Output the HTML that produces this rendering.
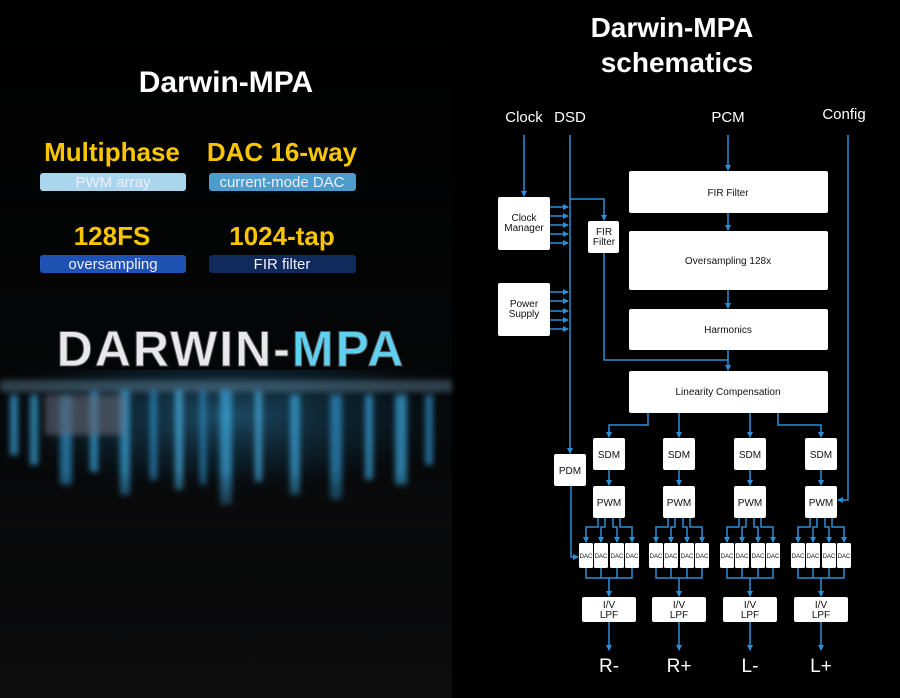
<!DOCTYPE html>
<html><head><meta charset="utf-8"><style>
html,body{margin:0;padding:0;background:#000;}
body{width:900px;height:698px;overflow:hidden;position:relative;font-family:"Liberation Sans",sans-serif;}
</style></head><body>
<svg width="900" height="698" viewBox="0 0 900 698" xmlns="http://www.w3.org/2000/svg" style="position:absolute;left:0;top:0">
<defs>
<marker id="a" markerWidth="6" markerHeight="6" refX="5" refY="3" orient="auto" markerUnits="userSpaceOnUse"><path d="M0,0 L6,3 L0,6 z" fill="#2a8fd6"/></marker>
<linearGradient id="lb" x1="0" y1="0" x2="0" y2="1"><stop offset="0" stop-color="#000"/><stop offset="0.55" stop-color="#050607"/><stop offset="1" stop-color="#0c0c0d"/></linearGradient>
<radialGradient id="glow" cx="0.5" cy="0.3" r="0.6"><stop offset="0" stop-color="#3aa0d8" stop-opacity="0.45"/><stop offset="0.6" stop-color="#1a5a80" stop-opacity="0.2"/><stop offset="1" stop-color="#000" stop-opacity="0"/></radialGradient>
<linearGradient id="fade" x1="0" y1="0" x2="0" y2="1"><stop offset="0" stop-color="#0b0b0c" stop-opacity="0"/><stop offset="1" stop-color="#0b0b0c" stop-opacity="1"/></linearGradient>
<filter id="bl" x="-20%" y="-20%" width="140%" height="140%"><feGaussianBlur stdDeviation="3"/></filter>
</defs>
<!-- left panel -->
<rect x="0" y="0" width="452" height="698" fill="url(#lb)"/>
<text x="226" y="92" fill="#fff" font-size="30" font-weight="bold" text-anchor="middle">Darwin-MPA</text>
<g font-weight="bold" font-size="26" fill="#f7c600" text-anchor="middle">
<text x="112" y="161">Multiphase</text>
<text x="282" y="161">DAC 16-way</text>
<text x="112" y="245">128FS</text>
<text x="282" y="245">1024-tap</text>
</g>
<rect x="40" y="173" width="146" height="18" rx="3" fill="#a9d6ec"/>
<rect x="209" y="173" width="147" height="18" rx="3" fill="#4c9ccc"/>
<rect x="40" y="255" width="146" height="18" rx="3" fill="#1f52b2"/>
<rect x="209" y="255" width="147" height="18" rx="3" fill="#102a5c"/>
<g font-size="15" fill="#eef" text-anchor="middle">
<text x="113" y="187">PWM array</text>
<text x="282" y="187">current-mode DAC</text>
<text x="113" y="269">oversampling</text>
<text x="282" y="269">FIR filter</text>
</g>
<rect x="0" y="370" width="452" height="150" fill="url(#glow)"/>
<g opacity="0.7" filter="url(#bl)">
<rect x="0" y="380" width="452" height="12" fill="#6a8fa8" opacity="0.6"/>
<rect x="10" y="395" width="8" height="60" fill="#3aa8e0"/>
<rect x="30" y="395" width="8" height="70" fill="#3aa8e0"/>
<rect x="60" y="395" width="12" height="90" fill="#2f90c8"/>
<rect x="90" y="392" width="8" height="80" fill="#3aa8e0"/>
<rect x="120" y="390" width="10" height="105" fill="#3aa8e0"/>
<rect x="150" y="390" width="7" height="90" fill="#2f90c8"/>
<rect x="175" y="390" width="8" height="100" fill="#4ab4e8"/>
<rect x="200" y="390" width="6" height="95" fill="#2f90c8"/>
<rect x="220" y="390" width="12" height="115" fill="#3aa8e0"/>
<rect x="255" y="392" width="7" height="90" fill="#4ab4e8"/>
<rect x="290" y="395" width="10" height="100" fill="#3aa8e0"/>
<rect x="330" y="395" width="12" height="105" fill="#2f90c8"/>
<rect x="365" y="395" width="8" height="85" fill="#3aa8e0"/>
<rect x="395" y="395" width="12" height="90" fill="#3aa8e0"/>
<rect x="425" y="395" width="8" height="70" fill="#2f90c8"/>
<rect x="45" y="395" width="80" height="40" fill="#889" opacity="0.6"/>
</g>
<rect x="0" y="470" width="452" height="60" fill="url(#fade)"/>
<text x="231" y="366" fill="#e8e8ea" font-size="50" font-weight="bold" text-anchor="middle" letter-spacing="2" stroke="#555" stroke-width="1">DARWIN-<tspan fill="#5fd0f0">MPA</tspan></text>

<!-- right panel -->
<g fill="#fff" font-weight="bold" font-size="28" text-anchor="middle">
<text x="672" y="37">Darwin-MPA</text>
<text x="677" y="72">schematics</text>
</g>
<g fill="#fff" font-size="15" text-anchor="middle">
<text x="524" y="122">Clock</text>
<text x="570" y="122">DSD</text>
<text x="728" y="122">PCM</text>
<text x="844" y="119">Config</text>
</g>
<g stroke="#2a8fd6" stroke-width="1.5" fill="none">
<line x1="524" y1="135" x2="524" y2="196" marker-end="url(#a)"/>
<polyline points="570,135 570,453" marker-end="url(#a)"/>
<polyline points="571,486 571,557 578,557" marker-end="url(#a)"/>
<polyline points="570,199 604,199 604,220" marker-end="url(#a)"/>
<polyline points="604,253 604,360 728,360 728,370" marker-end="url(#a)"/>
<line x1="728" y1="135" x2="728" y2="170" marker-end="url(#a)"/>
<line x1="728" y1="213" x2="728" y2="230" marker-end="url(#a)"/>
<line x1="728" y1="290" x2="728" y2="308" marker-end="url(#a)"/>
<line x1="728" y1="350" x2="728" y2="360"/>
<polyline points="848,135 848,500 838,500" marker-end="url(#a)"/>
<line x1="550" y1="207" x2="568" y2="207" marker-end="url(#a)"/>
<line x1="550" y1="216" x2="568" y2="216" marker-end="url(#a)"/>
<line x1="550" y1="225" x2="568" y2="225" marker-end="url(#a)"/>
<line x1="550" y1="234" x2="568" y2="234" marker-end="url(#a)"/>
<line x1="550" y1="243" x2="568" y2="243" marker-end="url(#a)"/>
<line x1="550" y1="292" x2="568" y2="292" marker-end="url(#a)"/>
<line x1="550" y1="301" x2="568" y2="301" marker-end="url(#a)"/>
<line x1="550" y1="311" x2="568" y2="311" marker-end="url(#a)"/>
<line x1="550" y1="320" x2="568" y2="320" marker-end="url(#a)"/>
<line x1="550" y1="329" x2="568" y2="329" marker-end="url(#a)"/>
<polyline points="648,413 648,425 609,425 609,437" marker-end="url(#a)"/>
<line x1="679" y1="413" x2="679" y2="437" marker-end="url(#a)"/>
<line x1="750" y1="413" x2="750" y2="437" marker-end="url(#a)"/>
<polyline points="778,413 778,425 821,425 821,437" marker-end="url(#a)"/>
</g>
<g fill="#fff">
<rect x="498" y="197" width="52" height="53" rx="2"/>
<rect x="498" y="283" width="52" height="53" rx="2"/>
<rect x="588" y="221" width="31" height="32" rx="2"/>
<rect x="629" y="171" width="199" height="42" rx="2"/>
<rect x="629" y="231" width="199" height="59" rx="2"/>
<rect x="629" y="309" width="199" height="41" rx="2"/>
<rect x="629" y="371" width="199" height="42" rx="2"/>
<rect x="554" y="454" width="32" height="32" rx="2"/>
</g>
<g fill="#111" font-size="10" text-anchor="middle">
<text x="524" y="221">Clock</text><text x="524" y="231">Manager</text>
<text x="524" y="307">Power</text><text x="524" y="317">Supply</text>
<text x="604" y="235">FIR</text><text x="604" y="245">Filter</text>
<text x="728" y="196">FIR Filter</text>
<text x="728" y="264">Oversampling 128x</text>
<text x="728" y="333">Harmonics</text>
<text x="728" y="395">Linearity Compensation</text>
<text x="570" y="474">PDM</text>
</g>

<!-- channel groups -->
<g transform="translate(609,0)">
<g stroke="#2a8fd6" stroke-width="1.5" fill="none">
<line x1="0" y1="470" x2="0" y2="485" marker-end="url(#a)"/>
<polyline points="-11,518 -11,527 -23,527 -23,542" marker-end="url(#a)"/>
<polyline points="-4,518 -4,527 -8,527 -8,542" marker-end="url(#a)"/>
<polyline points="4,518 4,527 8,527 8,542" marker-end="url(#a)"/>
<polyline points="11,518 11,527 23,527 23,542" marker-end="url(#a)"/>
<polyline points="-23,568 -23,578 23,578 23,568"/>
<line x1="-8" y1="568" x2="-8" y2="578"/><line x1="8" y1="568" x2="8" y2="578"/>
<line x1="0" y1="578" x2="0" y2="596" marker-end="url(#a)"/>
<line x1="0" y1="622" x2="0" y2="650" marker-end="url(#a)"/>
</g>
<g fill="#fff"><rect x="-16" y="438" width="32" height="32" rx="2"/><rect x="-16" y="486" width="32" height="32" rx="2"/>
<rect x="-30" y="543" width="14" height="25" rx="1.5"/><rect x="-15" y="543" width="14" height="25" rx="1.5"/><rect x="1" y="543" width="14" height="25" rx="1.5"/><rect x="16" y="543" width="14" height="25" rx="1.5"/>
<rect x="-27" y="597" width="54" height="25" rx="2"/></g>
<g fill="#111" text-anchor="middle" font-size="10"><text x="0" y="458">SDM</text><text x="0" y="506">PWM</text>
<g font-size="6"><text x="-23" y="558">DAC</text><text x="-8" y="558">DAC</text><text x="8" y="558">DAC</text><text x="23" y="558">DAC</text></g>
<text x="0" y="608">I/V</text><text x="0" y="618">LPF</text></g>
<text x="0" y="672" fill="#fff" font-size="19" text-anchor="middle">R-</text>
</g>
<g transform="translate(679,0)">
<g stroke="#2a8fd6" stroke-width="1.5" fill="none">
<line x1="0" y1="470" x2="0" y2="485" marker-end="url(#a)"/>
<polyline points="-11,518 -11,527 -23,527 -23,542" marker-end="url(#a)"/>
<polyline points="-4,518 -4,527 -8,527 -8,542" marker-end="url(#a)"/>
<polyline points="4,518 4,527 8,527 8,542" marker-end="url(#a)"/>
<polyline points="11,518 11,527 23,527 23,542" marker-end="url(#a)"/>
<polyline points="-23,568 -23,578 23,578 23,568"/>
<line x1="-8" y1="568" x2="-8" y2="578"/><line x1="8" y1="568" x2="8" y2="578"/>
<line x1="0" y1="578" x2="0" y2="596" marker-end="url(#a)"/>
<line x1="0" y1="622" x2="0" y2="650" marker-end="url(#a)"/>
</g>
<g fill="#fff"><rect x="-16" y="438" width="32" height="32" rx="2"/><rect x="-16" y="486" width="32" height="32" rx="2"/>
<rect x="-30" y="543" width="14" height="25" rx="1.5"/><rect x="-15" y="543" width="14" height="25" rx="1.5"/><rect x="1" y="543" width="14" height="25" rx="1.5"/><rect x="16" y="543" width="14" height="25" rx="1.5"/>
<rect x="-27" y="597" width="54" height="25" rx="2"/></g>
<g fill="#111" text-anchor="middle" font-size="10"><text x="0" y="458">SDM</text><text x="0" y="506">PWM</text>
<g font-size="6"><text x="-23" y="558">DAC</text><text x="-8" y="558">DAC</text><text x="8" y="558">DAC</text><text x="23" y="558">DAC</text></g>
<text x="0" y="608">I/V</text><text x="0" y="618">LPF</text></g>
<text x="0" y="672" fill="#fff" font-size="19" text-anchor="middle">R+</text>
</g>
<g transform="translate(750,0)">
<g stroke="#2a8fd6" stroke-width="1.5" fill="none">
<line x1="0" y1="470" x2="0" y2="485" marker-end="url(#a)"/>
<polyline points="-11,518 -11,527 -23,527 -23,542" marker-end="url(#a)"/>
<polyline points="-4,518 -4,527 -8,527 -8,542" marker-end="url(#a)"/>
<polyline points="4,518 4,527 8,527 8,542" marker-end="url(#a)"/>
<polyline points="11,518 11,527 23,527 23,542" marker-end="url(#a)"/>
<polyline points="-23,568 -23,578 23,578 23,568"/>
<line x1="-8" y1="568" x2="-8" y2="578"/><line x1="8" y1="568" x2="8" y2="578"/>
<line x1="0" y1="578" x2="0" y2="596" marker-end="url(#a)"/>
<line x1="0" y1="622" x2="0" y2="650" marker-end="url(#a)"/>
</g>
<g fill="#fff"><rect x="-16" y="438" width="32" height="32" rx="2"/><rect x="-16" y="486" width="32" height="32" rx="2"/>
<rect x="-30" y="543" width="14" height="25" rx="1.5"/><rect x="-15" y="543" width="14" height="25" rx="1.5"/><rect x="1" y="543" width="14" height="25" rx="1.5"/><rect x="16" y="543" width="14" height="25" rx="1.5"/>
<rect x="-27" y="597" width="54" height="25" rx="2"/></g>
<g fill="#111" text-anchor="middle" font-size="10"><text x="0" y="458">SDM</text><text x="0" y="506">PWM</text>
<g font-size="6"><text x="-23" y="558">DAC</text><text x="-8" y="558">DAC</text><text x="8" y="558">DAC</text><text x="23" y="558">DAC</text></g>
<text x="0" y="608">I/V</text><text x="0" y="618">LPF</text></g>
<text x="0" y="672" fill="#fff" font-size="19" text-anchor="middle">L-</text>
</g>
<g transform="translate(821,0)">
<g stroke="#2a8fd6" stroke-width="1.5" fill="none">
<line x1="0" y1="470" x2="0" y2="485" marker-end="url(#a)"/>
<polyline points="-11,518 -11,527 -23,527 -23,542" marker-end="url(#a)"/>
<polyline points="-4,518 -4,527 -8,527 -8,542" marker-end="url(#a)"/>
<polyline points="4,518 4,527 8,527 8,542" marker-end="url(#a)"/>
<polyline points="11,518 11,527 23,527 23,542" marker-end="url(#a)"/>
<polyline points="-23,568 -23,578 23,578 23,568"/>
<line x1="-8" y1="568" x2="-8" y2="578"/><line x1="8" y1="568" x2="8" y2="578"/>
<line x1="0" y1="578" x2="0" y2="596" marker-end="url(#a)"/>
<line x1="0" y1="622" x2="0" y2="650" marker-end="url(#a)"/>
</g>
<g fill="#fff"><rect x="-16" y="438" width="32" height="32" rx="2"/><rect x="-16" y="486" width="32" height="32" rx="2"/>
<rect x="-30" y="543" width="14" height="25" rx="1.5"/><rect x="-15" y="543" width="14" height="25" rx="1.5"/><rect x="1" y="543" width="14" height="25" rx="1.5"/><rect x="16" y="543" width="14" height="25" rx="1.5"/>
<rect x="-27" y="597" width="54" height="25" rx="2"/></g>
<g fill="#111" text-anchor="middle" font-size="10"><text x="0" y="458">SDM</text><text x="0" y="506">PWM</text>
<g font-size="6"><text x="-23" y="558">DAC</text><text x="-8" y="558">DAC</text><text x="8" y="558">DAC</text><text x="23" y="558">DAC</text></g>
<text x="0" y="608">I/V</text><text x="0" y="618">LPF</text></g>
<text x="0" y="672" fill="#fff" font-size="19" text-anchor="middle">L+</text>
</g>
</svg>
</body></html>
